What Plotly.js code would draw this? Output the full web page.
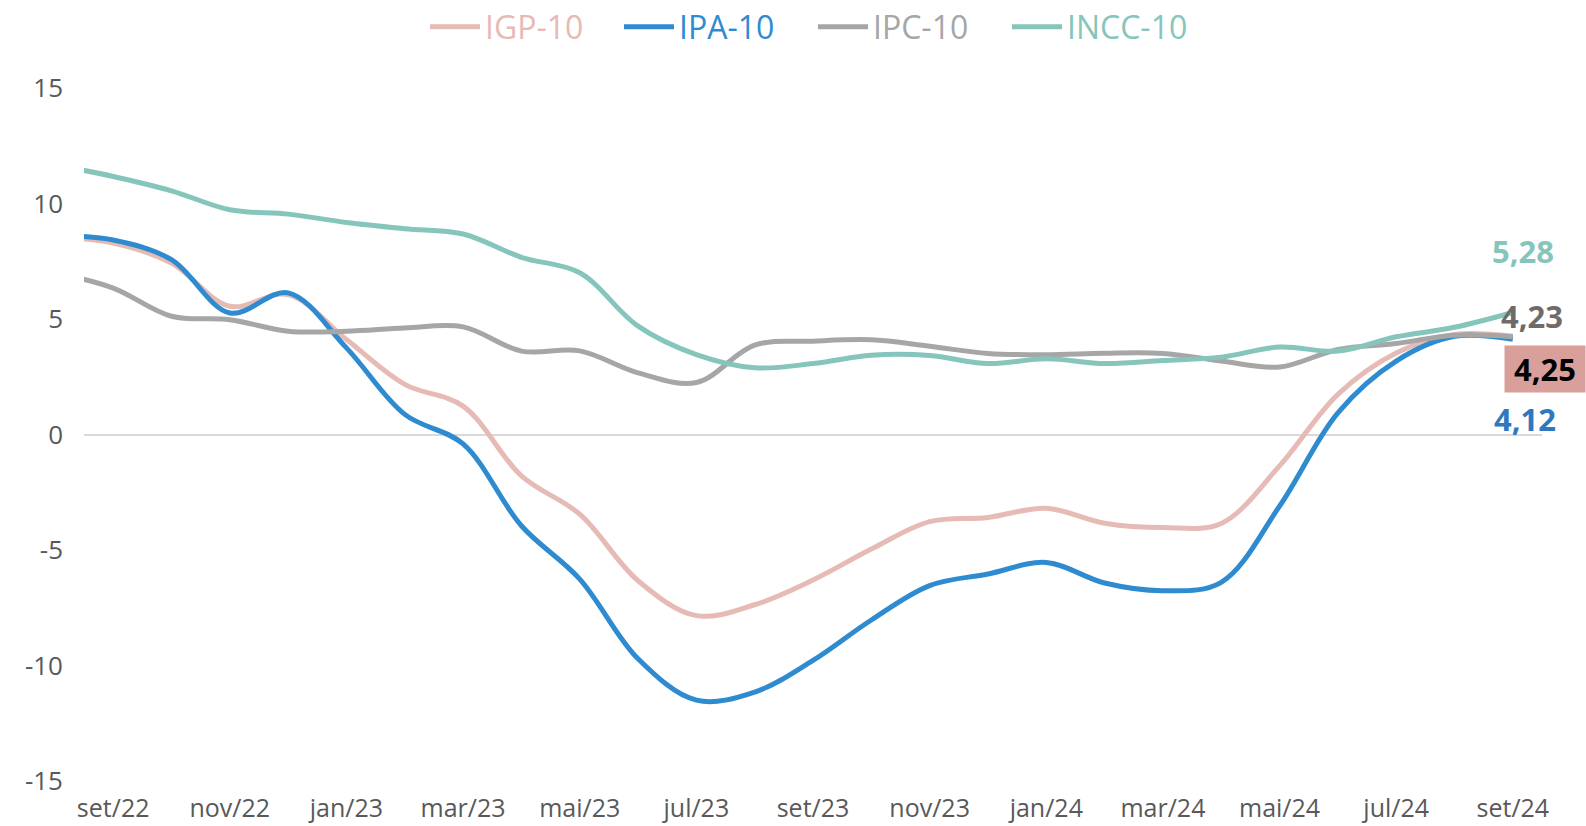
<!DOCTYPE html>
<html>
<head>
<meta charset="utf-8">
<script src="https://cdn.plot.ly/plotly-3.0.1.min.js"></script>
<style>html,body{margin:0;padding:0;background:#fff}#chart{width:1586px;height:826px}</style>
</head>
<body>
<div id="chart"></div>
<script>
// Months (ago/22 is only partially visible at the left edge)
const months = ["ago/22","set/22","out/22","nov/22","dez/22","jan/23","fev/23","mar/23","abr/23","mai/23","jun/23","jul/23","ago/23",
  "set/23","out/23","nov/23","dez/23","jan/24","fev/24","mar/24","abr/24","mai/24","jun/24","jul/24","ago/24","set/24"];
const tickLabels = ["set/22","nov/22","jan/23","mar/23","mai/23","jul/23","set/23","nov/23","jan/24","mar/24","mai/24","jul/24","set/24"];
const yTicks = [-15, -10, -5, 0, 5, 10, 15];

const igp10  = [8.55, 8.29, 7.42, 5.55, 6.06, 4.11, 2.17, 1.23, -1.79, -3.45, -6.33, -7.84, -7.37, -6.30, -4.96, -3.77, -3.59, -3.19, -3.84, -4.03, -3.85, -1.36, 1.74, 3.53, 4.33, 4.25];
const ipa10  = [8.62, 8.42, 7.57, 5.26, 6.13, 3.75, 0.87, -0.41, -3.95, -6.26, -9.71, -11.50, -11.15, -9.78, -8.03, -6.54, -6.04, -5.54, -6.43, -6.76, -6.40, -3.10, 0.94, 3.18, 4.25, 4.12];
const ipc10  = [7.00, 6.34, 5.12, 4.97, 4.47, 4.47, 4.61, 4.66, 3.61, 3.62, 2.67, 2.25, 3.87, 4.04, 4.10, 3.82, 3.51, 3.45, 3.52, 3.51, 3.18, 2.92, 3.68, 3.94, 4.30, 4.23];
const incc10 = [11.68, 11.17, 10.55, 9.73, 9.54, 9.18, 8.91, 8.68, 7.67, 7.00, 4.69, 3.46, 2.89, 3.07, 3.43, 3.42, 3.07, 3.28, 3.07, 3.20, 3.35, 3.79, 3.61, 4.23, 4.64, 5.28];

const seriesNames = ["IGP-10","IPA-10","IPC-10","INCC-10"];
const seriesColors = ["#E6BAB5","#2F8BD0","#A6A6A6","#86C5BC"];
const seriesData = [igp10, ipa10, ipc10, incc10];

const traces = seriesData.map((d, k) => ({
  type: "scatter", mode: "lines",
  name: '<span style="color:' + seriesColors[k] + '">' + seriesNames[k] + '</span>',
  x: months, y: d,
  line: {color: seriesColors[k], width: 5, shape: "spline", smoothing: 1},
  hoverinfo: "skip"
}));

const fmt = v => v.toFixed(2).replace(".", ",");
const last = months.length - 1;
const fontFam = "'Open Sans', 'Noto Sans', sans-serif";

const annotations = [
  {y: incc10[last], color: "#86C5BC", xs: 10, ys: 62, bg: null},
  {y: ipc10[last], color: "#6F6B6B", xs: 19, ys: 21, bg: null},
  {y: igp10[last], color: "#000000", xs: 32, ys: -33, bg: "#D9A09B"},
  {y: ipa10[last], color: "#2F78C0", xs: 12, ys: -80, bg: null}
].map(a => {
  const o = {
    x: months[last], y: a.y, xref: "x", yref: "y", text: "<b>" + fmt(a.y) + "</b>",
    showarrow: false, xshift: a.xs, yshift: a.ys,
    font: {family: fontFam, size: 31, color: a.color}
  };
  if (a.bg) { o.bgcolor = a.bg; o.width = 76; o.borderpad = 2; }
  return o;
});

const layout = {
  width: 1586, height: 826,
  margin: {l: 84, r: 44, t: 88, b: 45, autoexpand: false},
  paper_bgcolor: "#fff", plot_bgcolor: "#fff",
  font: {family: fontFam, color: "#595959"},
  showlegend: true,
  legend: {orientation: "h", x: 0.5, xanchor: "center", xref: "paper",
    y: 1 - 27 / 826, yanchor: "middle", yref: "container",
    font: {size: 32}, itemwidth: 50, entrywidth: 129, entrywidthmode: "pixels", traceorder: "normal"},
  xaxis: {type: "category", categoryorder: "array", categoryarray: months,
    range: [0.5, last + 0.5], tickmode: "array", tickvals: tickLabels, ticktext: tickLabels,
    showgrid: false, zeroline: false, showline: false, ticks: "",
    tickfont: {size: 25, color: "#595959"}, ticklabelstandoff: 10, fixedrange: true},
  yaxis: {range: [-15, 15], tickmode: "array", tickvals: yTicks, ticktext: yTicks.map(String),
    showgrid: false, zeroline: true, zerolinecolor: "#D9D9D9", zerolinewidth: 2, showline: false, ticks: "",
    tickfont: {size: 26, color: "#595959"}, ticklabelstandoff: 20, fixedrange: true},
  annotations: annotations
};

Plotly.newPlot("chart", traces, layout, {displayModeBar: false, staticPlot: true});
</script>
</body>
</html>
